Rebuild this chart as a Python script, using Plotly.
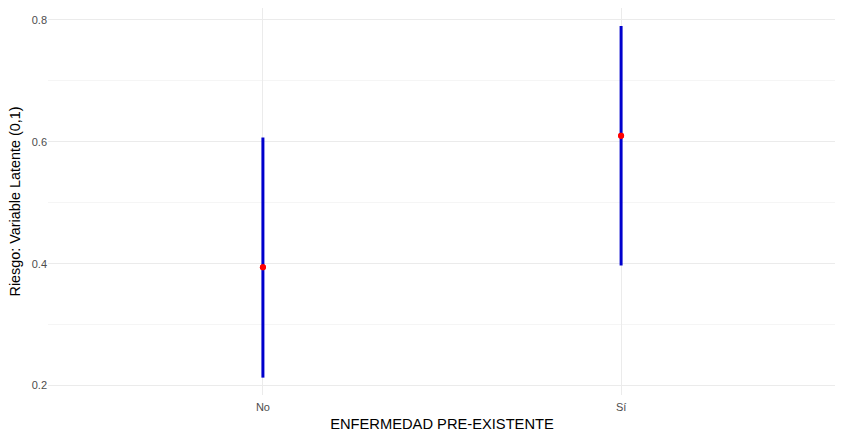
import plotly.graph_objects as go

categories = ["No", "Sí"]
estimate = [0.394, 0.610]
lower = [0.213, 0.397]
upper = [0.607, 0.790]
y_ticks = [0.2, 0.4, 0.6, 0.8]
y_tick_labels = ["0.2", "0.4", "0.6", "0.8"]
y_title = "Riesgo: Variable Latente (0,1)"

x_idx = list(range(1, len(categories) + 1))

fig = go.Figure()
fig.add_trace(go.Scatter(
    x=x_idx, y=estimate, mode="markers",
    marker=dict(color="red", size=6),
    error_y=dict(type="data", symmetric=False,
                 array=[u - e for u, e in zip(upper, estimate)],
                 arrayminus=[e - l for e, l in zip(estimate, lower)],
                 color="#0000cd", thickness=3, width=0),
    showlegend=False,
))
fig.add_trace(go.Scatter(x=x_idx, y=estimate, mode="markers",
                         marker=dict(color="red", size=6), showlegend=False))

fig.update_layout(
    width=843, height=440,
    margin=dict(l=40, r=15, t=0, b=53),
    paper_bgcolor="white", plot_bgcolor="white",
    font=dict(family="Liberation Sans, Arial, sans-serif"),
    xaxis=dict(
        range=[0.4, 2.6], tickvals=x_idx, ticktext=categories, automargin=False,
        showgrid=True, gridcolor="#ebebeb", gridwidth=1.2, zeroline=False,
        showline=False, ticks="", tickfont=dict(size=11, color="#4d4d4d"),
        ticklabelstandoff=4,
        title=dict(text="ENFERMEDAD PRE-EXISTENTE", font=dict(size=14.7, color="black"), standoff=6),
    ),
    yaxis=dict(
        range=[0.1845, 0.8195], tickvals=y_ticks, ticktext=y_tick_labels, automargin=False,
        showgrid=True, gridcolor="#ebebeb", gridwidth=1.2, zeroline=False,
        showline=False, ticks="", tickfont=dict(size=11, color="#4d4d4d"),
        minor=dict(tickvals=[0.3, 0.5, 0.7], showgrid=True, gridcolor="#f5f5f5", gridwidth=1),
    ),
    annotations=[dict(
        text=y_title, textangle=-90, xref="paper", yref="paper",
        x=0, y=0.5, xanchor="center", yanchor="middle", xshift=-34,
        showarrow=False, font=dict(size=14.4, color="black"),
    )],
)

fig.write_html("out.html")
